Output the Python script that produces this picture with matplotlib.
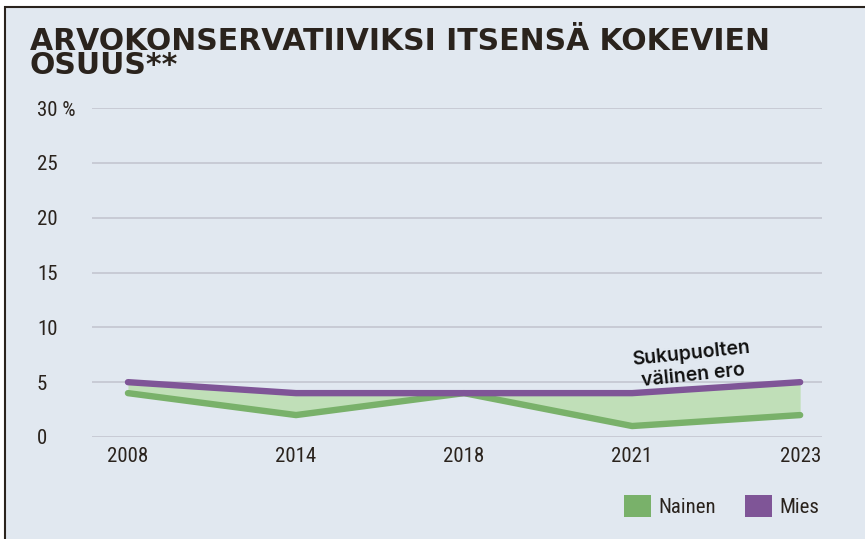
import matplotlib
matplotlib.use('Agg')
import matplotlib.pyplot as plt
from matplotlib.patches import Patch, Rectangle
from matplotlib import font_manager

# data
years = ['2008', '2014', '2018', '2021', '2023']
nainen = [4, 2, 4, 1, 2]
mies = [5, 4, 4, 4, 5]
yticks = [0, 5, 10, 15, 20, 25, 30]
ytick_labels = ['0', '5', '10', '15', '20', '25', '30 %']

BG = '#e1e8f0'
DARK = '#2a231d'
GREEN = '#79b16a'
PURPLE = '#7f5597'
FILL = '#c0dfb8'
GRID = '#c6c8d3'

names = {f.name for f in font_manager.fontManager.ttflist}
narrow = [n for n in ['Roboto Condensed', 'Liberation Sans Narrow', 'DejaVu Sans Condensed'] if n in names]
tick_font = narrow[:1] + ['DejaVu Sans']

W, H = 865, 539
fig = plt.figure(figsize=(W / 100, H / 100), dpi=100, facecolor='white')
# panel with dark frame on top/left
bg = fig.add_axes([0, 0, 1, 1], zorder=-1)
bg.axis('off')
bg.add_patch(Rectangle((5 / W, -0.1), 1.2, 1 - 7 / H + 0.1, transform=fig.transFigure,
                       facecolor=BG, edgecolor=DARK, linewidth=1.5))

ax = fig.add_axes([92 / W, 1 - 437 / H, (822 - 92) / W, (437 - 108) / H], zorder=1)
ax.set_facecolor('none')

x = list(range(len(years)))
ax.fill_between(x, nainen, mies, color=FILL, linewidth=0, zorder=2)
ax.plot(x, nainen, color=GREEN, lw=4.6, solid_capstyle='round', solid_joinstyle='round', zorder=3)
ax.plot(x, mies, color=PURPLE, lw=4.6, solid_capstyle='round', solid_joinstyle='round', zorder=4)

ax.set_xlim(-0.214, 4.13)
ax.set_ylim(0, 30)
ax.set_yticks(yticks)
ax.set_yticklabels(ytick_labels)
ax.set_xticks(x)
ax.set_xticklabels(years)
ax.grid(axis='y', color=GRID, lw=1.3, zorder=1)
ax.set_axisbelow(True)
for s in ax.spines.values():
    s.set_visible(False)

ax.tick_params(axis='both', length=0, colors=DARK, labelsize=15)
ax.tick_params(axis='y', pad=39.6)
ax.tick_params(axis='x', pad=7)
for lab in ax.get_yticklabels():
    lab.set_ha('left')
    lab.set_family(tick_font)
for lab in ax.get_xticklabels():
    lab.set_family(tick_font)

ax.text(3.37, 4.75, 'Sukupuolten\nvälinen ero', rotation=6, ha='center', va='bottom',
        fontsize=14, fontweight='semibold', color='#111111', linespacing=1.3,
        family='Inter', rotation_mode='anchor', zorder=5)

fig.text(30 / W, 1 - 27 / H, 'ARVOKONSERVATIIVIKSI ITSENSÄ KOKEVIEN\nOSUUS**', ha='left', va='top',
         fontsize=21.5, fontweight='bold', color=DARK, linespacing=0.78, family='DejaVu Sans')

handles = [Patch(facecolor=GREEN, label='Nainen'), Patch(facecolor=PURPLE, label='Mies')]
leg = fig.legend(handles=handles, loc='center right', bbox_to_anchor=(834 / W, 1 - 506 / H), ncol=2,
                 frameon=False, handlelength=1.3, handleheight=1.3, handletextpad=0.35,
                 columnspacing=1.4, borderpad=0.2, prop={'family': tick_font, 'size': 15})
for t in leg.get_texts():
    t.set_color(DARK)

fig.savefig('out.png', dpi=100, facecolor='white')
